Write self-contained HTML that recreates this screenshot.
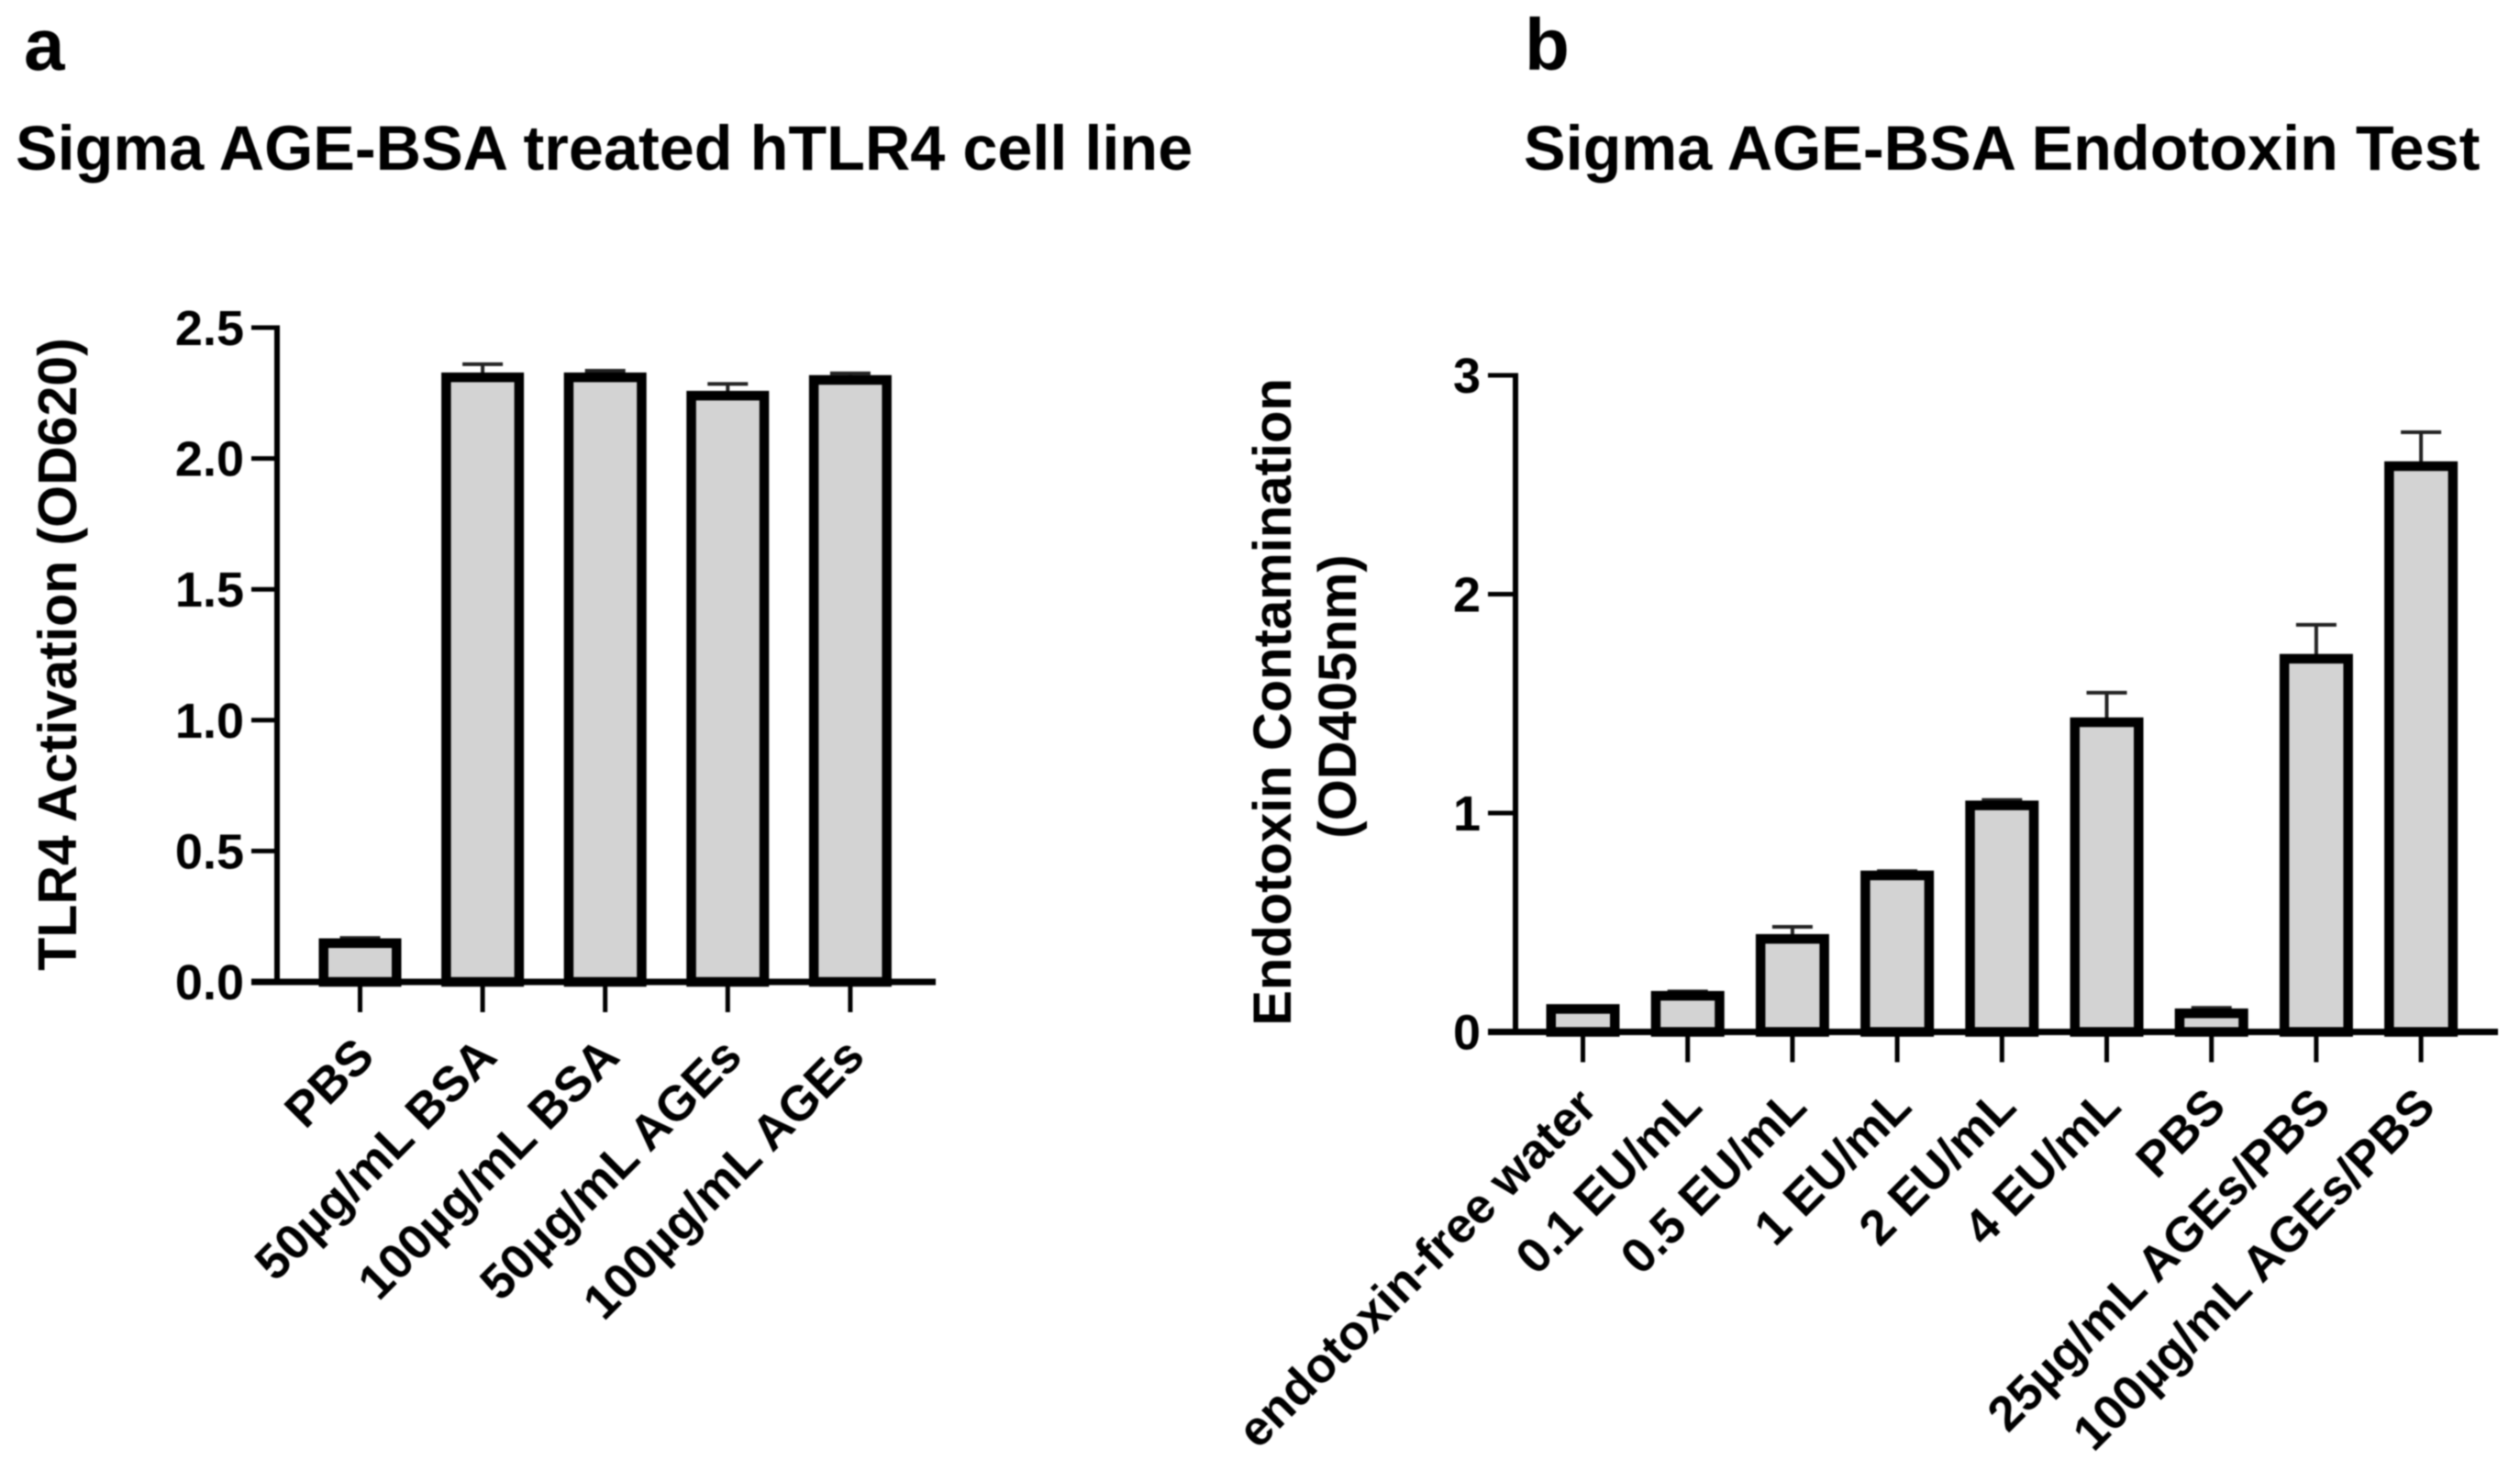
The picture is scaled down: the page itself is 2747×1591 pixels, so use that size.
<!DOCTYPE html>
<html lang="en">
<head>
<meta charset="utf-8">
<title>Sigma AGE-BSA charts</title>
<style>
html,body{margin:0;padding:0;background:#fff;}
body{width:2747px;height:1591px;overflow:hidden;}
svg{display:block;font-family:"Liberation Sans",Arial,sans-serif;font-weight:bold;fill:#000;filter:blur(0.7px);}
</style>
</head>
<body>
<svg id="figure" xmlns="http://www.w3.org/2000/svg" width="2747" height="1591" viewBox="0 0 2747 1591">
  <rect width="2747" height="1591" fill="#ffffff"/>
  <text x="26" y="76" font-size="80">a</text>
  <text x="1662" y="76" font-size="80">b</text>
  <text x="17" y="185" font-size="68.4">Sigma AGE-BSA treated hTLR4 cell line</text>
  <text x="1661" y="185" font-size="68.4">Sigma AGE-BSA Endotoxin Test</text>
  <text transform="translate(83,713) rotate(-90)" text-anchor="middle" font-size="59">TLR4 Activation (OD620)</text>
  <text transform="translate(1407,765) rotate(-90)" text-anchor="middle" font-size="58">Endotoxin Contamination</text>
  <text transform="translate(1478,759) rotate(-90)" text-anchor="middle" font-size="58">(OD405nm)</text>
  <g id="chart-a"></g>
  <g id="chart-b"></g>
</svg>
<script>
const categoriesA = ['PBS', '50µg/mL BSA', '100µg/mL BSA', '50µg/mL AGEs', '100µg/mL AGEs'];
const valuesA = [0.148, 2.31, 2.31, 2.24, 2.30];
const errorsA = [0.02, 0.05, 0.025, 0.045, 0.025];
const tickLabelsA = ['0.0', '0.5', '1.0', '1.5', '2.0', '2.5'];
const tickValuesA = [0, 0.5, 1, 1.5, 2, 2.5];

const categoriesB = ['endotoxin-free water', '0.1 EU/mL', '0.5 EU/mL', '1 EU/mL', '2 EU/mL', '4 EU/mL', 'PBS', '25µg/mL AGEs/PBS', '100µg/mL AGEs/PBS'];
const valuesB = [0.105, 0.165, 0.425, 0.715, 1.035, 1.415, 0.085, 1.705, 2.585];
const errorsB = [0.01, 0.02, 0.055, 0.02, 0.025, 0.135, 0.025, 0.155, 0.155];
const tickLabelsB = ['0', '1', '2', '3'];
const tickValuesB = [0, 1, 2, 3];

const NS = 'http://www.w3.org/2000/svg';

function make(parent, tag, attrs, content) {
  const el = document.createElementNS(NS, tag);
  for (const k in attrs) el.setAttribute(k, attrs[k]);
  if (content !== undefined) el.textContent = content;
  parent.appendChild(el);
  return el;
}

function drawChart(cfg) {
  const root = document.getElementById(cfg.id);
  const yScale = v => cfg.y0 - v * cfg.unit;
  const xScale = i => cfg.x0 + i * cfg.step;
  const yTop = yScale(cfg.tickValues[cfg.tickValues.length - 1]);

  cfg.values.forEach((v, i) => {
    const cx = xScale(i);
    const top = yScale(v);
    const errTop = yScale(v + cfg.errors[i]);

    const stem = make(root, 'line', {x1: cx, x2: cx, y1: top, y2: errTop, stroke: '#222', 'stroke-width': 4});
    
    

    const cap = make(root, 'line', {x1: cx - 22, x2: cx + 22, y1: errTop, y2: errTop, stroke: '#222', 'stroke-width': 4});
    
    

    const bar = make(root, 'rect', {x: cx - cfg.barW / 2, y: top, width: cfg.barW, height: cfg.y0 - top, fill: '#d3d3d3', stroke: '#000', 'stroke-width': cfg.barStroke});
    
    

    const xTick = make(root, 'line', {x1: cx, x2: cx, y1: cfg.y0, y2: cfg.y0 + 33, stroke: '#000', 'stroke-width': 5});
    
    

    const lx = cx + cfg.labelDx;
    const ly = cfg.y0 + cfg.labelDy;
    const label = make(root, 'text', {transform: 'translate(' + lx + ',' + ly + ') rotate(-45)', 'text-anchor': 'end', 'font-size': cfg.labelSize}, cfg.categories[i]);
    
    
  });

  cfg.tickValues.forEach((v, i) => {
    const y = yScale(v);
    const yTick = make(root, 'line', {x1: cfg.axisX - cfg.tickLen, x2: cfg.axisX, y1: y, y2: y, stroke: '#000', 'stroke-width': 5});
    
    

    const yLabel = make(root, 'text', {x: cfg.axisX - cfg.tickLen - 8, y: y + 19, 'text-anchor': 'end', 'font-size': 54}, cfg.tickLabels[i]);
    
    
  });

  const yAxis = make(root, 'line', {x1: cfg.axisX, x2: cfg.axisX, y1: yTop - 2.5, y2: cfg.y0 + 3, stroke: '#000', 'stroke-width': 6});
  
  

  const xAxis = make(root, 'line', {x1: cfg.axisX - cfg.tickLen, x2: cfg.axisEnd, y1: cfg.y0, y2: cfg.y0, stroke: '#000', 'stroke-width': 7});
  
  
}

drawChart({
  id: 'chart-a', categories: categoriesA, values: valuesA, errors: errorsA,
  tickLabels: tickLabelsA, tickValues: tickValuesA,
  y0: 1070, unit: 285.2, x0: 392.5, step: 133.6, barW: 79.5, barStroke: 10.5,
  axisX: 302, axisEnd: 1020, tickLen: 28, labelDx: 18, labelDy: 84, labelSize: 53.5
});

drawChart({
  id: 'chart-b', categories: categoriesB, values: valuesB, errors: errorsB,
  tickLabels: tickLabelsB, tickValues: tickValuesB,
  y0: 1124.5, unit: 238.5, x0: 1725.5, step: 114.2, barW: 69.5, barStroke: 10.5,
  axisX: 1652, axisEnd: 2723, tickLen: 30, labelDx: 18, labelDy: 84, labelSize: 53.5
});
</script>
</body>
</html>
